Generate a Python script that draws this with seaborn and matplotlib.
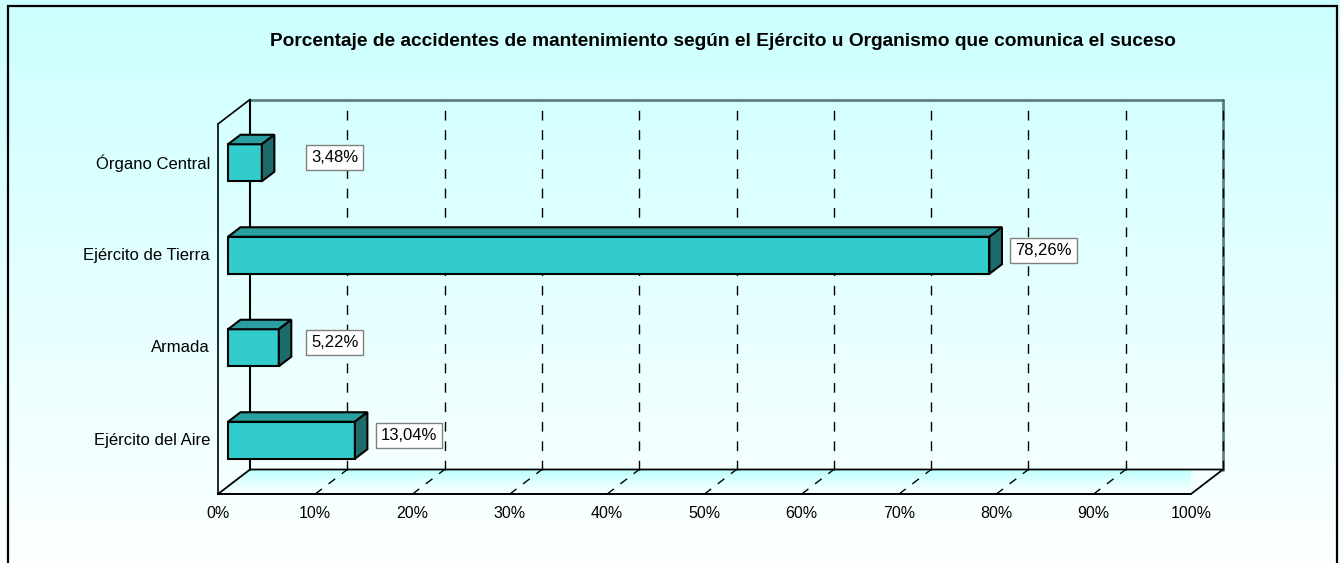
import numpy as np
import matplotlib
matplotlib.use("Agg")
import matplotlib.pyplot as plt
import seaborn as sns
from matplotlib.patches import Polygon, Rectangle
from matplotlib.colors import to_rgb
import matplotlib.transforms as mtrans

# ---------------- data ----------------
categories = ["Órgano Central", "Ejército de Tierra", "Armada", "Ejército del Aire"]
values = [3.48, 78.26, 5.22, 13.04]
value_labels = ["3,48%", "78,26%", "5,22%", "13,04%"]
x_ticks = [0, 10, 20, 30, 40, 50, 60, 70, 80, 90, 100]
x_tick_labels = ["0%", "10%", "20%", "30%", "40%", "50%", "60%", "70%", "80%", "90%", "100%"]
title = "Porcentaje de accidentes de mantenimiento según el Ejército u Organismo que comunica el suceso"

# ---------------- style ----------------
sns.set_style("white")
plt.rcParams["font.family"] = ["Liberation Sans", "DejaVu Sans"]
plt.rcParams["text.color"] = "black"
plt.rcParams["xtick.color"] = "black"
plt.rcParams["ytick.color"] = "black"
plt.rcParams["xtick.labelcolor"] = "black"
plt.rcParams["ytick.labelcolor"] = "black"

W, H, DPI = 1340, 563, 100
fig = plt.figure(figsize=(W / DPI, H / DPI), dpi=DPI)

# background gradient + frame
bg = fig.add_axes([0, 0, 1, 1], zorder=0)
bg.set_axis_off()
c_top = np.array(to_rgb("#CCFFFF"))
c_bot = np.array(to_rgb("#FFFFFF"))
t = np.linspace(0, 1, 256)[:, None]
grad = (c_top[None, :] * (1 - t) + c_bot[None, :] * t)[:, None, :]
bg.imshow(grad, extent=[0, 1, -0.05, 1], aspect="auto", origin="upper")
bg.set_xlim(0, 1)
bg.set_ylim(0, 1)
bg.add_patch(Rectangle((8 / W, -0.05), (1337 - 8) / W, 1.05 - 6 / H,
                       fill=False, ec="black", lw=1.6, transform=bg.transAxes))

# main axes: front plane of the 3D chart
x0p, x1p, y0p, y1p = 218, 1191, 124, 494
ax = fig.add_axes([x0p / W, (H - y1p) / H, (x1p - x0p) / W, (y1p - y0p) / H], zorder=1)
ax.set_facecolor("none")

sns.barplot(x=values, y=categories, orient="h", color="#33CCCC", saturation=1,
            width=0.40, edgecolor="black", linewidth=1.5, ax=ax, zorder=3)
ax.set_xlim(0, 100)
ax.set_ylim(3.5, -0.5)

# pixel -> data conversions
sx = 100.0 / (x1p - x0p)
sy = 4.0 / (y1p - y0p)
wx, wy = 32 * sx, 24.5 * sy        # full depth (wall)
fx, fy = 10 * sx, 7.5 * sy         # bar front plane
bx, by = 12.5 * sx, 9.5 * sy       # bar depth

ybot, ytop = 3.5, -0.5

# floor with gradient
floor = Polygon([(0, ybot), (100, ybot), (100 + wx, ybot - wy), (wx, ybot - wy)],
                closed=True, fc="none", ec="black", lw=1.3, clip_on=False, zorder=2)
ax.add_patch(floor)
fgrad = (np.array(to_rgb("#BBFFFF"))[None, :] * (1 - t) + c_bot[None, :] * t)[:, None, :]
im = ax.imshow(fgrad, extent=[0, 100 + wx, ybot, ybot - wy], aspect="auto",
               origin="upper", zorder=1)
im.set_clip_path(floor)
im.set_clip_box(None)
ax.set_xlim(0, 100)
ax.set_ylim(3.5, -0.5)

# floor dashed diagonals
for xt in x_ticks[1:-1]:
    ax.plot([xt, xt + wx], [ybot, ybot - wy], color="black", lw=1,
            ls=(0, (6, 6)), clip_on=False, zorder=2)
# back wall dashed verticals
for xt in x_ticks[1:-1]:
    ax.plot([xt + wx, xt + wx], [ybot - wy, ytop - wy], color="black", lw=1,
            ls=(0, (7, 7)), clip_on=False, zorder=1.5)
# wall edges
ax.plot([wx, 100 + wx], [ytop - wy, ytop - wy], color="#5F8080", lw=2, clip_on=False, zorder=1.6)
ax.plot([100 + wx, 100 + wx], [ybot - wy, ytop - wy], color="#5F8080", lw=2, clip_on=False, zorder=1.6)
ax.plot([100 + wx, 100 + wx], [ybot - wy, ytop - wy], color="black", lw=1,
        ls=(0, (7, 7)), clip_on=False, zorder=1.7)
ax.plot([wx, wx], [ybot - wy, ytop - wy], color="black", lw=1.5, clip_on=False, zorder=1.6)
ax.plot([0, wx], [ytop, ytop - wy], color="black", lw=1.2, clip_on=False, zorder=1.6)

# 3D bars: shift front faces and add top/side faces
for p in list(ax.patches):
    if p is floor or not isinstance(p, Rectangle):
        continue
    xl, yl, w, h = p.get_x(), p.get_y(), p.get_width(), p.get_height()
    xl2, yt2 = xl + fx, yl - fy
    yb2 = yt2 + h
    xr2 = xl2 + w
    p.set_x(xl2)
    p.set_y(yt2)
    p.set_zorder(3)
    p.set_clip_on(False)
    top = Polygon([(xl2, yt2), (xr2, yt2), (xr2 + bx, yt2 - by), (xl2 + bx, yt2 - by)],
                  closed=True, fc="#2A9F9F", ec="black", lw=1.5, zorder=3, clip_on=False)
    side = Polygon([(xr2, yt2), (xr2, yb2), (xr2 + bx, yb2 - by), (xr2 + bx, yt2 - by)],
                   closed=True, fc="#1E6B6B", ec="black", lw=1.5, zorder=3, clip_on=False)
    ax.add_patch(top)
    ax.add_patch(side)

# value labels
for i, (v, lab) in enumerate(zip(values, value_labels)):
    ax.annotate(lab, xy=(max(v, 5.85), i), xytext=(36, 12.5), textcoords="offset pixels",
                ha="left", va="center", fontsize=12, color="black", zorder=5,
                annotation_clip=False,
                bbox=dict(boxstyle="square,pad=0.3", fc="white", ec="#808080", lw=1))

# axes / ticks
for s in ["top", "right"]:
    ax.spines[s].set_visible(False)
ax.spines["left"].set_color("black")
ax.spines["left"].set_linewidth(1.2)
ax.spines["bottom"].set_color("black")
ax.spines["bottom"].set_linewidth(1.2)
ax.set_xticks(x_ticks)
ax.set_xticklabels(x_tick_labels, fontsize=11.5, color="black")
ax.tick_params(axis="x", direction="out", length=4.5, width=1, color="black", pad=4)
ax.set_yticks([-0.5, 0.5, 1.5, 2.5, 3.5])
ax.set_yticklabels([])
ax.tick_params(axis="y", direction="out", length=4, width=1, color="black")
ax.set_xlabel("")
ax.set_ylabel("")

ytrans = ax.get_yaxis_transform() + mtrans.ScaledTranslation(-8 / DPI, 7.5 / DPI, fig.dpi_scale_trans)
for i, cat in enumerate(categories):
    ax.text(0, i, cat, transform=ytrans, ha="right", va="center", fontsize=12, color="black")

fig.text(723 / W, 1 - 42 / H, title, ha="center", va="center", fontsize=13.8,
         fontweight="bold", color="black")

fig.savefig("out.png", dpi=DPI)
